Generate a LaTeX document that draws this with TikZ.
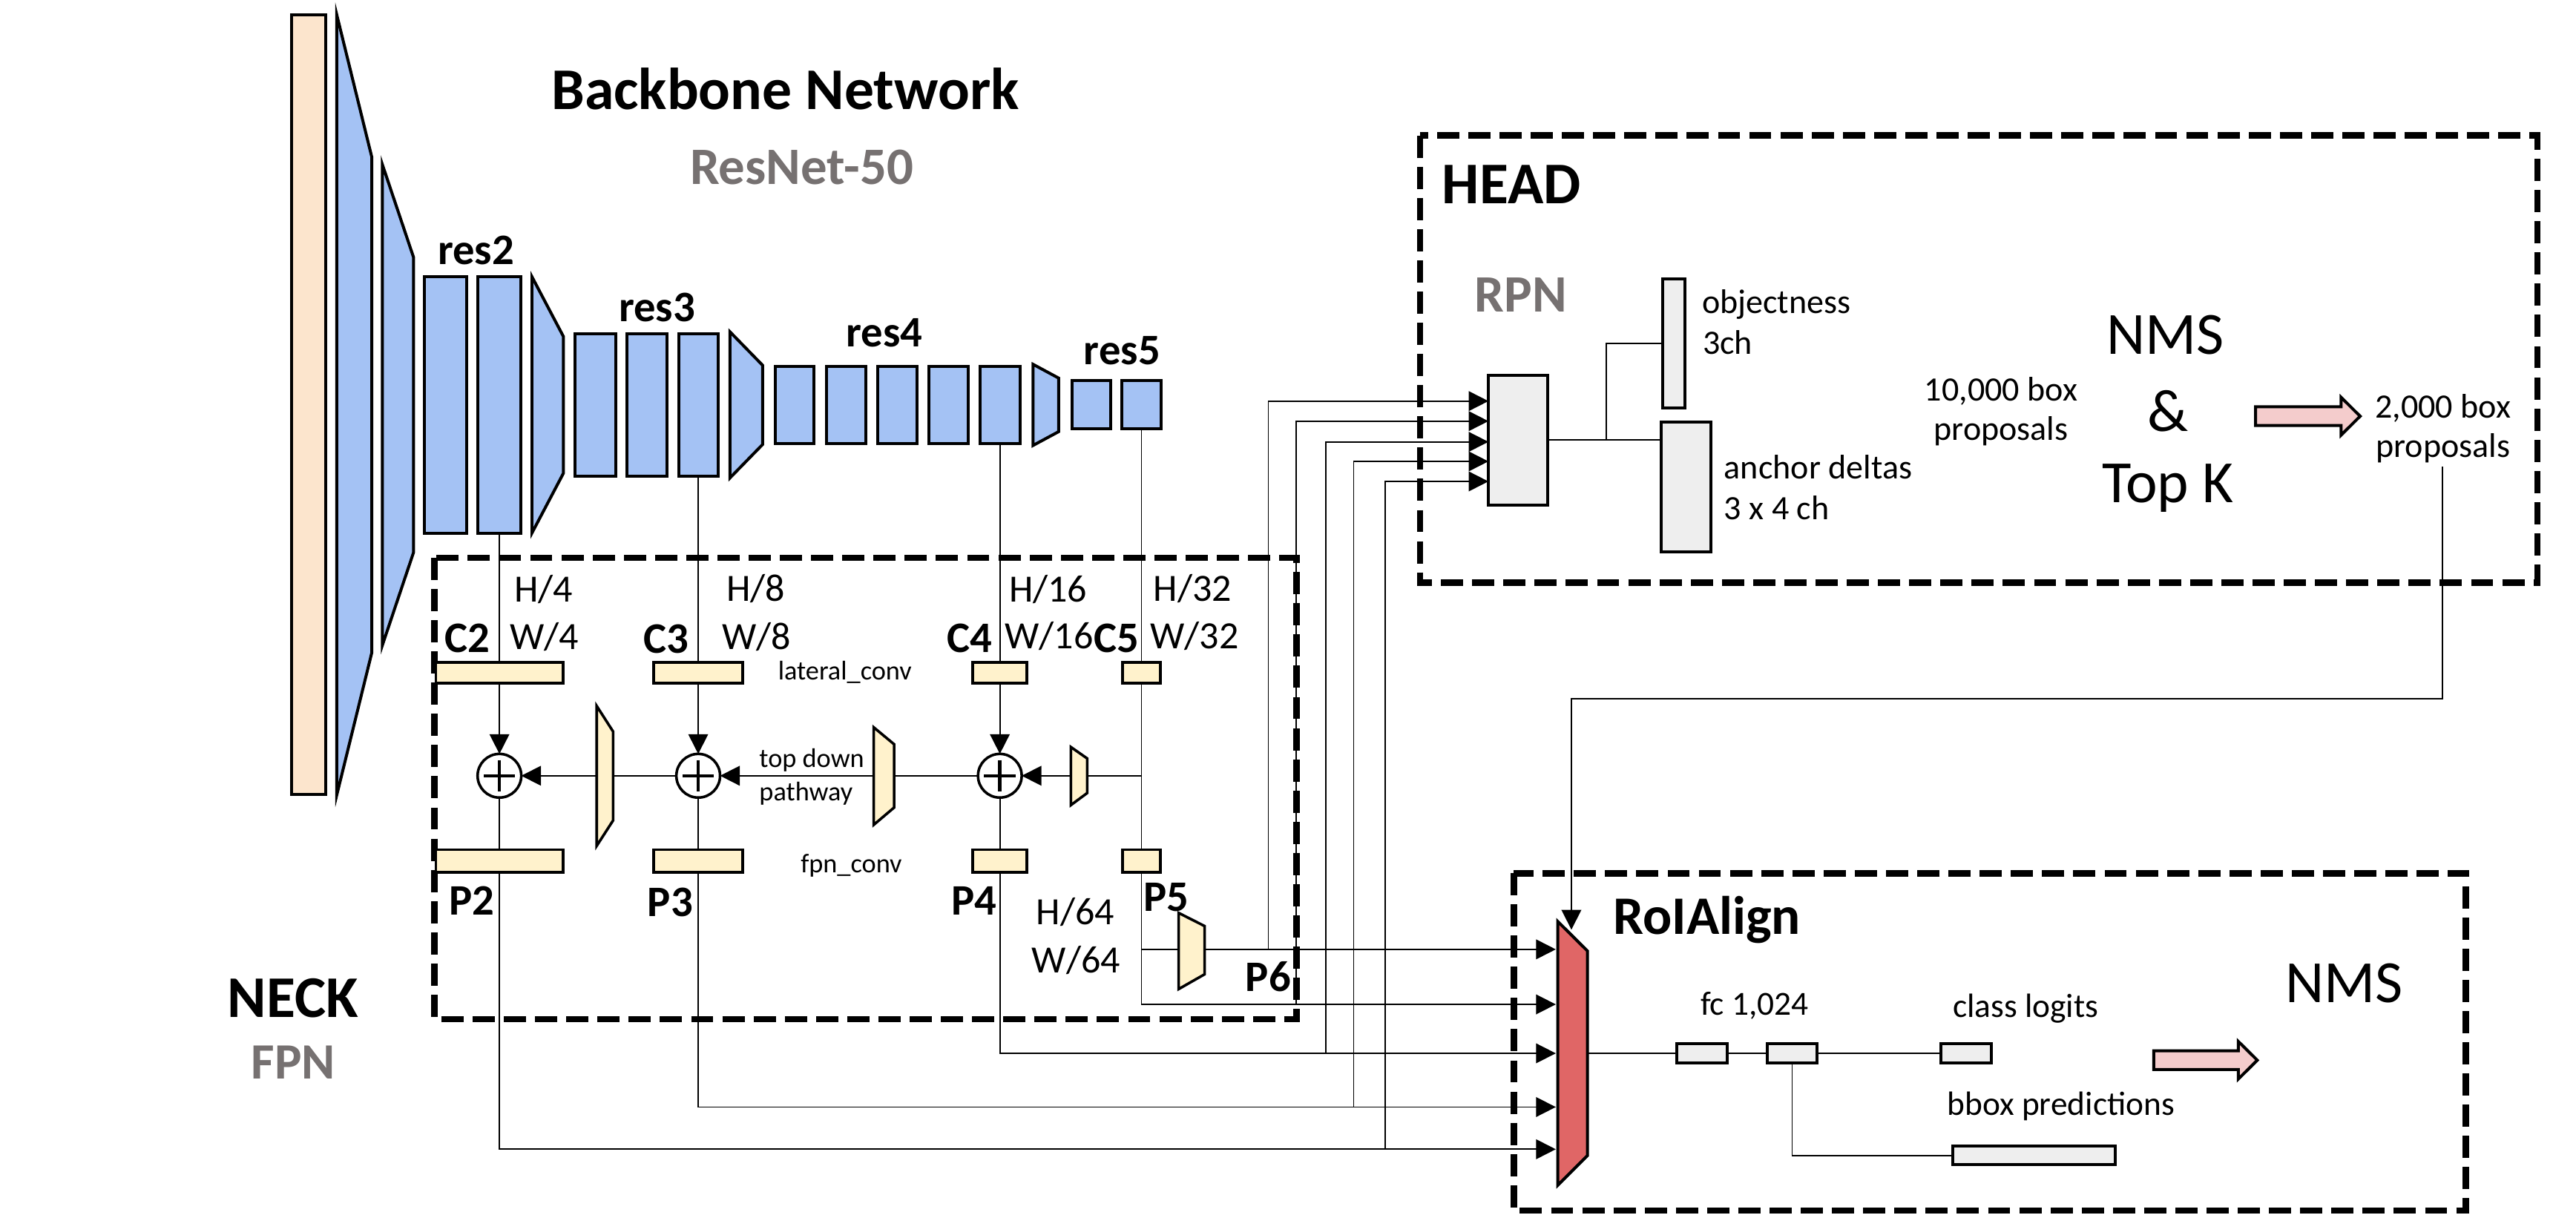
\documentclass[tikz,border=0pt]{standalone}
\usepackage{fontspec}
\setmainfont{Carlito}
\usetikzlibrary{arrows.meta}
\definecolor{blu}{HTML}{A4C2F4}
\definecolor{peach}{HTML}{FCE5CD}
\definecolor{yel}{HTML}{FFF2CC}
\definecolor{lgray}{HTML}{EEEEEE}
\definecolor{roic}{HTML}{E06666}
\definecolor{pnk}{HTML}{F4CCCC}
\definecolor{gtxt}{HTML}{767171}
\tikzset{
  rbox/.style={rectangle, inner sep=0pt, outer sep=0pt},
  bbk/.style={draw, line width=1.8pt, fill=blu, line join=miter},
  nbox/.style={draw, line width=1.6pt, fill=yel, line join=miter},
  gbox/.style={draw, line width=1.8pt, fill=lgray},
  dbox/.style={draw, line width=4pt, dash pattern=on 13.5pt off 5.5pt},
  conn/.style={line width=0.8pt},
  arro/.style={conn, -{Triangle[length=12pt,width=12pt]}},
  tx/.style={inner sep=0pt, outer sep=0pt, anchor=base},
  ttl/.style={tx, font=\bfseries\fontsize{36}{40}\selectfont},
  subt/.style={tx, text=gtxt, font=\bfseries\fontsize{32}{36}\selectfont},
  reslbl/.style={tx, font=\bfseries\fontsize{26.5}{30}\selectfont},
  hwlbl/.style={tx, font=\fontsize{23.5}{27}\selectfont},
  smlbl/.style={tx, font=\fontsize{16.4}{20}\selectfont},
  mdlbl/.style={tx, font=\fontsize{20.8}{24}\selectfont},
  biglbl/.style={tx, font=\fontsize{36.5}{40}\selectfont},
  pinkarr/.style={draw, line width=1.8pt, fill=pnk, line join=miter},
}
\begin{document}
\begin{tikzpicture}[x=1pt,y=-1pt]
\useasboundingbox (0,0) rectangle (1568,739.3);

% ---------- dashed group boxes
\draw[dbox] (264.6,339.6) rectangle (789,620.5);
\draw[dbox] (864.4,82.5) rectangle (1544.5,354.8);
\draw[dbox] (921.5,531.6) rectangle (1501.1,737);

% ---------- backbone
\node[rbox, draw, line width=1.8pt, fill=peach, minimum width=20.8pt, minimum height=474.6pt] (inp) at (188,246.5) {};
\draw[bbk] (205,9) -- (226.3,95.6) -- (226.3,397.4) -- (205,484) -- cycle;
\draw[bbk] (232.7,100) -- (251.7,156.6) -- (251.7,336.4) -- (232.7,393) -- cycle;
\node[rbox, bbk, minimum width=25.5pt, minimum height=156pt] (r2a) at (271.25,246.5) {};
\node[rbox, bbk, minimum width=26.5pt, minimum height=156pt] (r2b) at (304,246.5) {};
\draw[bbk] (323.8,168.5) -- (342.9,204.8) -- (342.9,288.2) -- (323.8,324.5) -- cycle;
\node[rbox, bbk, minimum width=24.6pt, minimum height=87pt] (r3a) at (362.5,246.5) {};
\node[rbox, bbk, minimum width=24.4pt, minimum height=87pt] (r3b) at (393.7,246.5) {};
\node[rbox, bbk, minimum width=24pt, minimum height=87pt] (r3c) at (425,246.5) {};
\draw[bbk] (444.3,202) -- (464.2,222.4) -- (464.2,270.6) -- (444.3,291) -- cycle;
\node[rbox, bbk, minimum width=23.3pt, minimum height=47.2pt] (r4a) at (483.75,246.5) {};
\node[rbox, bbk, minimum width=23.8pt, minimum height=47.2pt] (r4b) at (515.1,246.5) {};
\node[rbox, bbk, minimum width=23.8pt, minimum height=47.2pt] (r4c) at (546.2,246.5) {};
\node[rbox, bbk, minimum width=23.8pt, minimum height=47.2pt] (r4d) at (577.3,246.5) {};
\node[rbox, bbk, minimum width=24.3pt, minimum height=47.2pt] (r4e) at (608.6,246.5) {};
\draw[bbk] (628.8,221.8) -- (644.4,230.2) -- (644.4,262.8) -- (628.8,271.2) -- cycle;
\node[rbox, bbk, minimum width=23.5pt, minimum height=29.4pt] (r5a) at (664.15,246.5) {};
\node[rbox, bbk, minimum width=23.9pt, minimum height=29.4pt] (r5b) at (694.8,246.5) {};

\node[ttl] (tbb) at (478,66.5) {Backbone Network};
\node[subt] (trn) at (488,112) {ResNet-50};
\node[reslbl] (tr2) at (289.8,161) {res2};
\node[reslbl] (tr3) at (400,195.7) {res3};
\node[reslbl] (tr4) at (538.4,211.3) {res4};
\node[reslbl] (tr5) at (683,221.8) {res5};

% ---------- neck
\node[rbox, nbox, minimum width=77.3pt, minimum height=12.6pt] (c2l) at (304,409.6) {};
\node[rbox, nbox, minimum width=54.1pt, minimum height=12.6pt] (c3l) at (425,409.6) {};
\node[rbox, nbox, minimum width=32.9pt, minimum height=12.6pt] (c4l) at (608.6,409.6) {};
\node[rbox, nbox, minimum width=23.2pt, minimum height=12.6pt] (c5l) at (694.8,409.6) {};
\node[rbox, nbox, minimum width=77.3pt, minimum height=13.8pt] (p2f) at (304,524.3) {};
\node[rbox, nbox, minimum width=54.1pt, minimum height=13.8pt] (p3f) at (425,524.3) {};
\node[rbox, nbox, minimum width=32.9pt, minimum height=13.8pt] (p4f) at (608.6,524.3) {};
\node[rbox, nbox, minimum width=23.2pt, minimum height=13.8pt] (p5f) at (694.8,524.3) {};
\node[circle, draw, line width=1.6pt, fill=white, minimum size=26.6pt, inner sep=0pt, outer sep=0pt] (s2) at (304,472.3) {};
\node[circle, draw, line width=1.6pt, fill=white, minimum size=26.6pt, inner sep=0pt, outer sep=0pt] (s3) at (425,472.3) {};
\node[circle, draw, line width=1.6pt, fill=white, minimum size=26.6pt, inner sep=0pt, outer sep=0pt] (s4) at (608.6,472.3) {};
\foreach \s in {s2,s3,s4}{
  \draw[line width=2.1pt] (\s.center) ++(-9.6,0) -- ++(19.2,0);
  \draw[line width=2.1pt] (\s.center) ++(0,-9.6) -- ++(0,19.2);
}
\draw[nbox] (363.2,429.8) -- (373.2,445.4) -- (373.2,499.5) -- (363.2,515) -- cycle;
\draw[nbox] (531.8,442.8) -- (544.2,453.1) -- (544.2,491.7) -- (531.8,502.2) -- cycle;
\draw[nbox] (651.8,454.8) -- (661.8,461.8) -- (661.8,482.8) -- (651.8,490.2) -- cycle;
\draw[nbox] (717.4,555.8) -- (733.2,563.8) -- (733.2,593.2) -- (717.4,602.2) -- cycle;
\coordinate (u1L) at (363.2,472.3); \coordinate (u1R) at (373.2,472.3);
\coordinate (u2L) at (531.8,472.3); \coordinate (u2R) at (544.2,472.3);
\coordinate (u3L) at (651.8,472.3); \coordinate (u3R) at (661.8,472.3);
\coordinate (p6L) at (717.4,578); \coordinate (p6R) at (733.2,578);

% backbone -> lateral
\draw[conn] (r2b.south) -- (c2l.north);
\draw[conn] (r3c.south) -- (c3l.north);
\draw[conn] (r4e.south) -- (c4l.north);
\draw[conn] (r5b.south) -- (c5l.north);
% lateral -> sums -> fpn
\draw[arro] (c2l.south) -- (s2.north);
\draw[arro] (c3l.south) -- (s3.north);
\draw[arro] (c4l.south) -- (s4.north);
\draw[conn] (s2.south) -- (p2f.north);
\draw[conn] (s3.south) -- (p3f.north);
\draw[conn] (s4.south) -- (p4f.north);
\draw[conn] (c5l.south) -- (p5f.north);
% top-down pathway
\draw[conn] (c5l.south |- u3R) -- (u3R);
\draw[arro] (u3L) -- (s4.east);
\draw[conn] (s4.west) -- (u2R);
\draw[arro] (u2L) -- (s3.east);
\draw[conn] (s3.west) -- (u1R);
\draw[arro] (u1L) -- (s2.east);

% neck labels
\node[reslbl] (lc2) at (284.5,397) {C2};
\node[reslbl] (lc3) at (405.5,397.5) {C3};
\node[reslbl] (lc4) at (590.4,397) {C4};
\node[reslbl] (lc5) at (679.5,397) {C5};
\node[reslbl] (lp2) at (287,557) {P2};
\node[reslbl] (lp3) at (408,558) {P3};
\node[reslbl] (lp4) at (593,557) {P4};
\node[reslbl] (lp5) at (710,555) {P5};
\node[reslbl] (lp6) at (772,603.4) {P6};
\node[hwlbl] at (331,366.3) {H/4};
\node[hwlbl] at (331.4,395.3) {W/4};
\node[hwlbl] at (460,366) {H/8};
\node[hwlbl] at (460.5,395.5) {W/8};
\node[hwlbl] at (638,366.5) {H/16};
\node[hwlbl] at (638.6,395) {W/16};
\node[hwlbl] at (726,366) {H/32};
\node[hwlbl] at (727,395) {W/32};
\node[hwlbl] at (654.5,563) {H/64};
\node[hwlbl] at (655,592.4) {W/64};
\node[smlbl] at (514.3,414) {lateral\_conv};
\node[smlbl, anchor=base west] at (462.2,467.4) {top down};
\node[smlbl, anchor=base west] at (462.2,487.3) {pathway};
\node[smlbl] at (518.2,531.4) {fpn\_conv};
\node[ttl] (tneck) at (178.3,619.6) {NECK};
\node[subt, font=\bfseries\fontsize{31}{35}\selectfont] (tfpn) at (178.5,656.8) {FPN};

% ---------- head
\node[rbox, gbox, minimum width=36.2pt, minimum height=79pt] (rpn) at (924.1,267.9) {};
\node[rbox, gbox, minimum width=13.6pt, minimum height=78.6pt] (obj) at (1018.8,209.1) {};
\node[rbox, gbox, minimum width=30.2pt, minimum height=78.9pt] (anc) at (1026.3,296.45) {};
\coordinate (q1) at (rpn.west |- 0,244.2);
\coordinate (q2) at (rpn.west |- 0,256.4);
\coordinate (q3) at (rpn.west |- 0,269);
\coordinate (q4) at (rpn.west |- 0,280.9);
\coordinate (q5) at (rpn.west |- 0,293.1);
\draw[conn] (rpn.east) -- (rpn.east -| anc.west);
\coordinate (br) at (977.7,267.9);
\draw[conn] (br) |- (obj.west);

\node[ttl] (thead) at (920,124) {HEAD};
\node[subt] (trpn) at (925.6,189.7) {RPN};
\node[mdlbl, anchor=base west] at (1036,190.6) {objectness};
\node[mdlbl, anchor=base west] at (1036.5,215.6) {3ch};
\node[mdlbl, anchor=base west] at (1049.5,291.3) {anchor deltas};
\node[mdlbl, anchor=base west] at (1049.5,316.2) {3 x 4 ch};
\node[mdlbl] at (1218,244) {10,000 box};
\node[mdlbl] at (1218,268) {proposals};
\node[biglbl] at (1318,215.8) {NMS};
\node[biglbl] at (1319.5,262.6) {\&};
\node[biglbl] at (1319.5,305.8) {Top K};
\draw[pinkarr] (1372.9,247.7) -- (1425,247.7) -- (1425,241.9) -- (1436.6,253.4) -- (1425,264.9) -- (1425,259.1) -- (1372.9,259.1) -- cycle;
\node[mdlbl] (t2k) at (1487,254.4) {2,000 box};
\node[mdlbl] (tprop) at (1487,278.5) {proposals};

% ---------- RoIAlign head
\draw[draw, line width=1.8pt, fill=roic, line join=miter] (948.2,561) -- (966.3,579) -- (966.3,703.5) -- (948.2,721.6) -- cycle;
\coordinate (rin1) at (947,578);
\coordinate (rin2) at (947,611.5);
\coordinate (rin3) at (947,641.3);
\coordinate (rin4) at (947,674);
\coordinate (rin5) at (947,699.7);
\coordinate (rout) at (966.3,641.3);
\node[rbox, gbox, minimum width=30.6pt, minimum height=11.5pt] (fc1) at (1035.9,641.3) {};
\node[rbox, gbox, minimum width=30.6pt, minimum height=11.5pt] (fc2) at (1090.85,641.3) {};
\node[rbox, gbox, minimum width=30.6pt, minimum height=11.5pt] (cls) at (1196.75,641.3) {};
\node[rbox, gbox, minimum width=98.9pt, minimum height=11.4pt] (bbx) at (1237.95,703.5) {};
\draw[conn] (rout) -- (fc1.west);
\draw[conn] (fc1.east) -- (fc2.west);
\draw[conn] (fc2.east) -- (cls.west);
\draw[conn] (fc2.south) |- (bbx.west);
\node[tx, font=\bfseries\fontsize{33}{36}\selectfont] (troi) at (1039,569) {RoIAlign};
\node[mdlbl, font=\fontsize{20.5}{24}\selectfont] at (1068,618) {fc 1,024};
\node[mdlbl, font=\fontsize{20.5}{24}\selectfont] at (1233,619.5) {class logits};
\node[mdlbl, font=\fontsize{20.5}{24}\selectfont] at (1254.5,678.8) {bbox predictions};
\draw[pinkarr] (1311,639.8) -- (1362.4,639.8) -- (1362.4,634) -- (1374,645.5) -- (1362.4,657) -- (1362.4,651.2) -- (1311,651.2) -- cycle;
\node[biglbl] at (1427,610.4) {NMS};

% ---------- feature maps to RoIAlign and RPN
\draw[arro] (p2f.south) |- (rin5);
\draw[arro] (p3f.south) |- (rin4);
\draw[arro] (p4f.south) |- (rin3);
\draw[arro] (p5f.south) |- (rin2);
\draw[conn] (p5f.south |- p6L) -- (p6L);
\draw[arro] (p6R) -- (rin1);
\coordinate (v6) at (772,578);
\coordinate (v5) at (789,611.5);
\coordinate (v4) at (807,641.3);
\coordinate (v3) at (824,674);
\coordinate (v2) at (843,699.7);
\draw[arro] (v6) |- (q1);
\draw[arro] (v5) |- (q2);
\draw[arro] (v4) |- (q3);
\draw[arro] (v3) |- (q4);
\draw[arro] (v2) |- (q5);

% ---------- proposals to RoIAlign
\coordinate (ps) at (1486.6,284);
\coordinate (pturn) at (956.5,425.3);
\coordinate (rtop) at (956.5,566);
\draw[arro] (ps) |- (pturn) -- (rtop);
\end{tikzpicture}
\end{document}
